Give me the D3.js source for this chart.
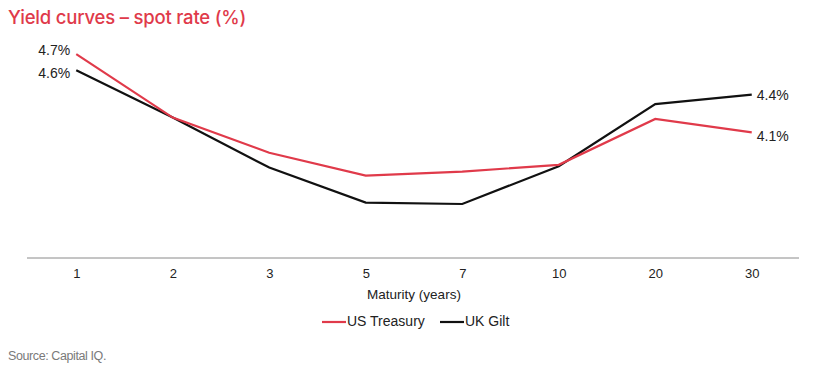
<!DOCTYPE html>
<html><head><meta charset="utf-8">
<script src="https://cdn.jsdelivr.net/npm/d3@7"></script>
<style>body{margin:0;background:#fff}svg{display:block}</style>
</head><body>
<script>
const categories = ["1","2","3","5","7","10","20","30"];
const usTreasury = [4.71, 4.24, 3.98, 3.81, 3.84, 3.89, 4.23, 4.13];
const ukGilt     = [4.59, 4.24, 3.87, 3.61, 3.60, 3.88, 4.34, 4.41];
const seriesNames = ["US Treasury", "UK Gilt"];
const colors = ["#e03a4a", "#111111"];

const W = 817, H = 372;
const svg = d3.select("body").append("svg").attr("width", W).attr("height", H)
  .style("font-family", "'Liberation Sans', Arial, sans-serif");

const x = d3.scalePoint().domain(categories).range([28, 800]).padding(0.5);
const y = d3.scaleLinear().domain([3.2, 4.8]).range([258, 42]);

svg.append("text").attr("x", 8).attr("y", 24)
  .attr("fill", "#e03a4a").attr("font-size", 18.5).attr("font-weight", 500)
  .attr("font-family", "Inter, 'Liberation Sans', sans-serif")
  .attr("letter-spacing", -0.2)
  .text("Yield curves – spot rate (%)");

// x axis
const ax = svg.append("g").attr("transform", "translate(0,258)")
  .call(d3.axisBottom(x).tickSize(0).tickPadding(11));
ax.select(".domain").attr("d", "M27,0H799").attr("stroke", "#8a8a8a").attr("stroke-width", 1);
ax.selectAll("text").attr("font-size", 13).attr("fill", "#222").attr("font-family", "'Liberation Sans', Arial, sans-serif");

svg.append("text").attr("x", 414).attr("y", 299).attr("text-anchor", "middle")
  .attr("font-size", 13.5).attr("fill", "#222").text("Maturity (years)");

const data = [usTreasury, ukGilt];
const line = d3.line().x((d, i) => x(categories[i])).y(d => y(d));
[1, 0].forEach(s => {
  svg.append("path").datum(data[s]).attr("d", line)
    .attr("fill", "none").attr("stroke", colors[s]).attr("stroke-width", 2.2)
    .attr("stroke-linejoin", "miter");
});

const fmt = v => d3.format(".1f")(v) + "%";
const last = categories.length - 1;
data.forEach((ser, s) => {
  svg.append("text").attr("x", x(categories[0]) - 6).attr("y", y(ser[0]) + (s === 0 ? -3 : 4))
    .attr("text-anchor", "end").attr("font-size", 14).attr("fill", "#222").attr("dominant-baseline", "middle")
    .text(fmt(ser[0]));
  svg.append("text").attr("x", x(categories[last]) + 5).attr("y", y(ser[last]) + (s === 0 ? 5 : 2))
    .attr("text-anchor", "start").attr("font-size", 14).attr("fill", "#222").attr("dominant-baseline", "middle")
    .text(fmt(ser[last]));
});

// legend
const legX = [322, 440];
seriesNames.forEach((n, i) => {
  const g = svg.append("g").attr("transform", `translate(${legX[i]},322)`);
  g.append("line").attr("x1", 0).attr("x2", 24).attr("y1", 0).attr("y2", 0)
    .attr("stroke", colors[i]).attr("stroke-width", 2.2);
  g.append("text").attr("x", 25).attr("y", 0).attr("dominant-baseline", "middle")
    .attr("font-size", 14).attr("fill", "#222").text(n);
});

svg.append("text").attr("x", 8).attr("y", 360).attr("font-size", 12.5)
  .attr("fill", "#7a7a7a").attr("letter-spacing", -0.4).text("Source: Capital IQ.");
</script>
</body></html>
